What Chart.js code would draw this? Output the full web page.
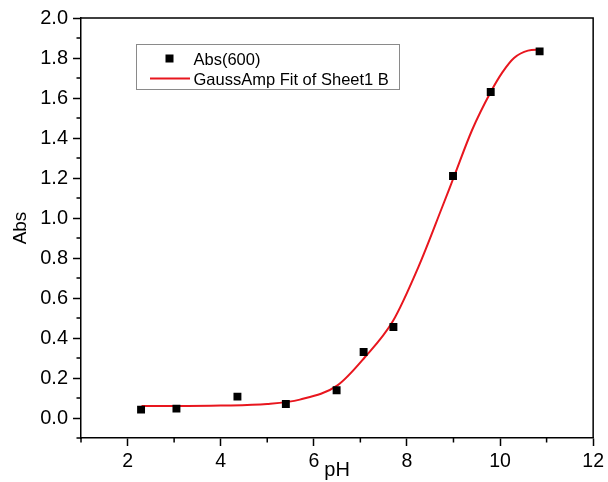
<!DOCTYPE html>
<html>
<head>
<meta charset="utf-8">
<script src="https://cdn.jsdelivr.net/npm/chart.js@4.4.1/dist/chart.umd.min.js"></script>
<style>
  html, body { margin: 0; padding: 0; background: #fff; }
</style>
</head>
<body>
<canvas id="myChart" width="608" height="482"></canvas>
<script>
// measured points
const phValues = [2.29, 3.05, 4.36, 5.40, 6.49, 7.07, 7.71, 8.99, 9.80, 10.85];
const absValues = [0.042, 0.047, 0.107, 0.070, 0.139, 0.33, 0.455, 1.21, 1.63, 1.833];

// fit curve
const fitPh = [2.3, 3.0, 4.0, 5.0, 5.7, 6.5, 7.1, 7.7, 8.25, 8.75, 9.0, 9.4, 9.8, 10.05, 10.3, 10.6, 10.85];
const fitAbs = [0.060, 0.060, 0.062, 0.070, 0.092, 0.162, 0.305, 0.485, 0.757, 1.05, 1.20, 1.44, 1.63, 1.728, 1.800, 1.837, 1.842];

const xTicks = [2, 4, 6, 8, 10, 12];
const xMinor = [1, 3, 5, 7, 9, 11];
const yTicks = [0.0, 0.2, 0.4, 0.6, 0.8, 1.0, 1.2, 1.4, 1.6, 1.8, 2.0];
const yMinor = [-0.1, 0.1, 0.3, 0.5, 0.7, 0.9, 1.1, 1.3, 1.5, 1.7, 1.9];

const seriesLabels = ['Abs(600)', 'GaussAmp Fit of Sheet1 B'];

const fontFamily = "'Liberation Sans', Arial, sans-serif";
const red = 'rgb(232, 22, 30)';

// frame + minor ticks
const frameAndMinor = {
  id: 'frameAndMinor',
  afterDraw(chart) {
    const ctx = chart.ctx;
    const { left, right, top, bottom } = chart.chartArea;
    const xs = chart.scales.x;
    const ys = chart.scales.y;
    ctx.save();
    ctx.strokeStyle = '#000';
    ctx.lineWidth = 1.5;
    ctx.beginPath();
    ctx.moveTo(left, top);
    ctx.lineTo(right, top);
    ctx.lineTo(right, bottom);
    xMinor.forEach(v => {
      const px = xs.getPixelForValue(v);
      ctx.moveTo(px, bottom);
      ctx.lineTo(px, bottom + 4.5);
    });
    yMinor.forEach(v => {
      const py = ys.getPixelForValue(v);
      ctx.moveTo(left, py);
      ctx.lineTo(left - 4.5, py);
    });
    ctx.stroke();
    ctx.restore();
  }
};

// boxed legend inside the plot
const boxLegend = {
  id: 'boxLegend',
  afterDraw(chart) {
    const ctx = chart.ctx;
    const area = chart.chartArea;
    const bx = area.left + 55, by = area.top + 26, bw = 263, bh = 45;
    const ds = chart.data.datasets;
    ctx.save();
    ctx.fillStyle = '#fff';
    ctx.fillRect(bx, by, bw, bh);
    ctx.strokeStyle = '#8a8a8a';
    ctx.lineWidth = 1;
    ctx.strokeRect(bx + 0.5, by + 0.5, bw, bh);

    // row 1: square marker
    ctx.fillStyle = '#000';
    ctx.fillRect(bx + 29.5, by + 10.5, 8, 8);
    // row 2: red line
    ctx.strokeStyle = red;
    ctx.lineWidth = 2;
    ctx.beginPath();
    ctx.moveTo(bx + 14, by + 34.5);
    ctx.lineTo(bx + 54, by + 34.5);
    ctx.stroke();

    ctx.fillStyle = '#000';
    ctx.font = '16.5px ' + fontFamily;
    ctx.textBaseline = 'alphabetic';
    ctx.fillText(ds[0].label, bx + 57.5, by + 20.5);
    ctx.fillText(ds[1].label, bx + 57.5, by + 40.5);
    ctx.restore();
  }
};

const ctx = document.getElementById('myChart').getContext('2d');
new Chart(ctx, {
  type: 'scatter',
  data: {
    datasets: [
      {
        label: seriesLabels[0],
        data: phValues.map((x, i) => ({ x, y: absValues[i] })),
        pointStyle: 'rect',
        pointRadius: 5.6,
        pointBorderWidth: 0,
        backgroundColor: '#000',
        borderColor: '#000',
        showLine: false
      },
      {
        label: seriesLabels[1],
        data: fitPh.map((x, i) => ({ x, y: fitAbs[i] })),
        showLine: true,
        borderColor: red,
        borderWidth: 2,
        pointRadius: 0,
        cubicInterpolationMode: 'monotone',
        fill: false
      }
    ]
  },
  options: {
    responsive: false,
    animation: false,
    devicePixelRatio: 1,
    layout: { padding: { left: 0, top: 18, right: 12, bottom: 0 } },
    plugins: {
      legend: { display: false },
      tooltip: { enabled: false }
    },
    scales: {
      x: {
        type: 'linear',
        min: 1,
        max: 12,
        afterBuildTicks: s => { s.ticks = xTicks.map(v => ({ value: v })); },
        afterFit: s => { s.height = 44; },
        grid: { drawOnChartArea: false, tickLength: 8, tickColor: '#000', tickWidth: 1.5 },
        border: { color: '#000', width: 1.5 },
        ticks: {
          color: '#000',
          padding: 4,
          font: { family: fontFamily, size: 19.5 },
          callback: v => String(v)
        },
        title: {
          display: true,
          text: 'pH',
          color: '#000',
          padding: { top: 0, bottom: 0 },
          font: { family: fontFamily, size: 20 }
        }
      },
      y: {
        type: 'linear',
        min: -0.1,
        max: 2.0,
        afterBuildTicks: s => { s.ticks = yTicks.map(v => ({ value: v })); },
        afterFit: s => { s.width = 81; },
        grid: { drawOnChartArea: false, tickLength: 8, tickColor: '#000', tickWidth: 1.5 },
        border: { color: '#000', width: 1.5 },
        ticks: {
          color: '#000',
          padding: 5,
          font: { family: fontFamily, size: 20 },
          callback: v => Number(v).toFixed(1)
        },
        title: {
          display: true,
          text: 'Abs',
          color: '#000',
          padding: { top: 9, bottom: 0 },
          font: { family: fontFamily, size: 19 }
        }
      }
    }
  },
  plugins: [frameAndMinor, boxLegend]
});
</script>
</body>
</html>
